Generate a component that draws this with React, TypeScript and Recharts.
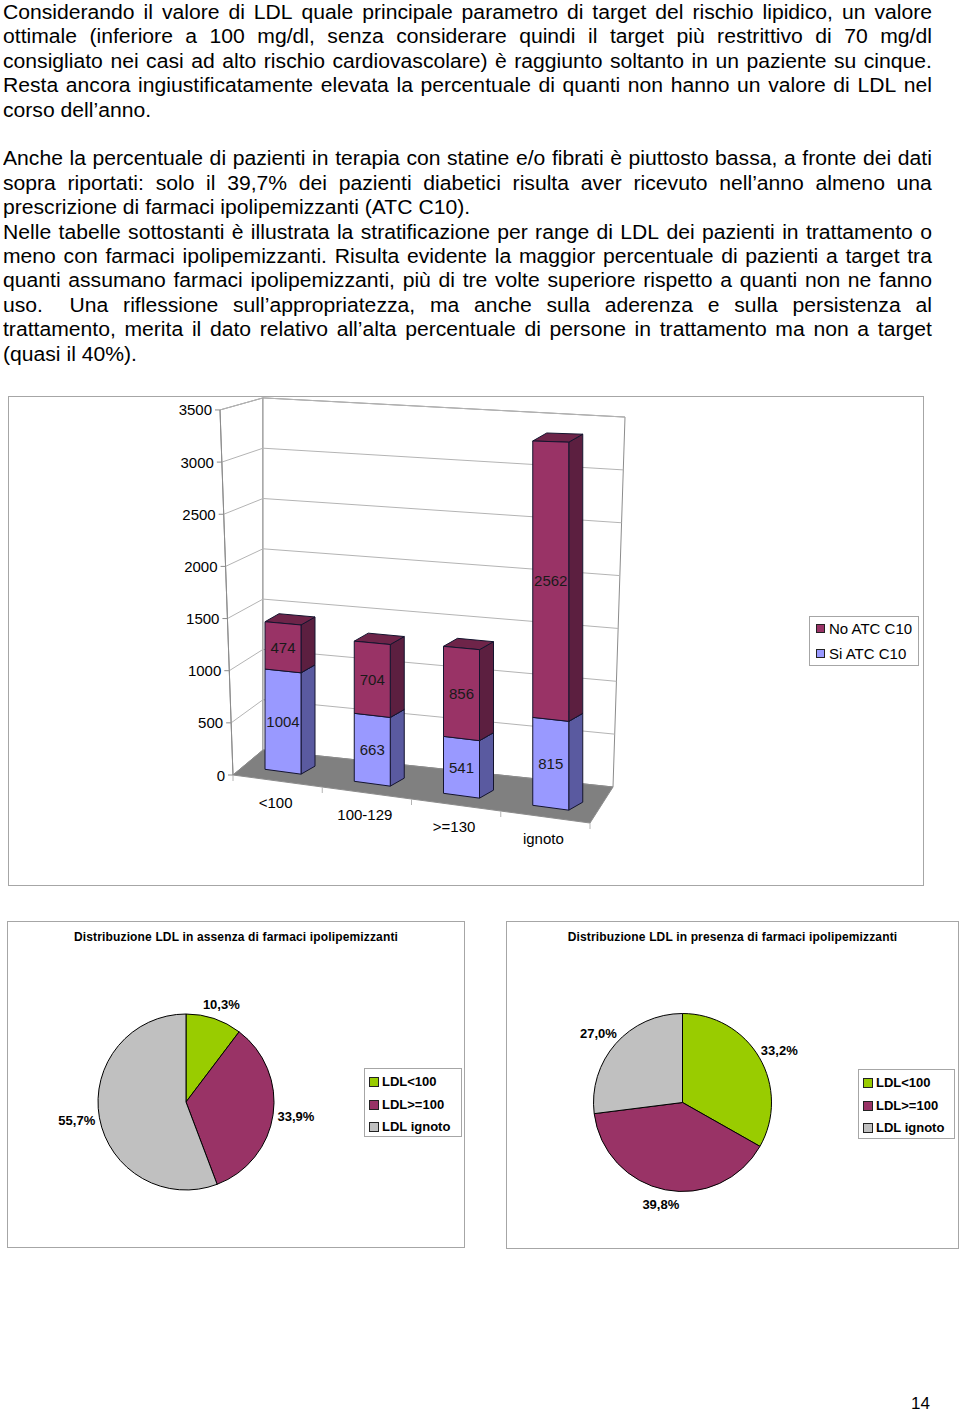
import React from 'react';
import { BarChart, Bar, XAxis, YAxis, Customized, PieChart, Pie, Cell } from 'recharts';

// ---------- text ----------
const textLines: { t: string; row: number; j: boolean }[] = [
  { t: 'Considerando il valore di LDL quale principale parametro di target del rischio lipidico, un valore', row: 0, j: true },
  { t: 'ottimale (inferiore a 100 mg/dl, senza considerare quindi il target più restrittivo di 70 mg/dl', row: 1, j: true },
  { t: 'consigliato nei casi ad alto rischio cardiovascolare) è raggiunto soltanto in un paziente su cinque.', row: 2, j: true },
  { t: 'Resta ancora ingiustificatamente elevata la percentuale di quanti non hanno un valore di LDL nel', row: 3, j: true },
  { t: 'corso dell’anno.', row: 4, j: false },
  { t: 'Anche la percentuale di pazienti in terapia con statine e/o fibrati è piuttosto bassa, a fronte dei dati', row: 6, j: true },
  { t: 'sopra riportati: solo il 39,7% dei pazienti diabetici risulta aver ricevuto nell’anno almeno una', row: 7, j: true },
  { t: 'prescrizione di farmaci ipolipemizzanti (ATC C10).', row: 8, j: false },
  { t: 'Nelle tabelle sottostanti è illustrata la stratificazione per range di LDL dei pazienti in trattamento o', row: 9, j: true },
  { t: 'meno con farmaci ipolipemizzanti. Risulta evidente la maggior percentuale di pazienti a target tra', row: 10, j: true },
  { t: 'quanti assumano farmaci ipolipemizzanti, più di tre volte superiore rispetto a quanti non ne fanno', row: 11, j: true },
  { t: 'uso.\u00a0\u00a0 Una riflessione sull’appropriatezza, ma anche sulla aderenza e sulla persistenza al', row: 12, j: true },
  { t: 'trattamento, merita il dato relativo all’alta percentuale di persone in trattamento ma non a target', row: 13, j: true },
  { t: '(quasi il 40%).', row: 14, j: false },
];

// ---------- bar chart data ----------
const ranges = ['<100', '100-129', '>=130', 'ignoto'];
const siATC = [1004, 663, 541, 815];
const noATC = [474, 704, 856, 2562];
const yTicks = [0, 500, 1000, 1500, 2000, 2500, 3000, 3500];
const seriesNames = { si: 'Si ATC C10', no: 'No ATC C10' };

// ---------- pie data ----------
const pieCategories = ['LDL<100', 'LDL>=100', 'LDL ignoto'];
const pieAssenza = [10.3, 33.9, 55.7];
const piePresenza = [33.2, 39.8, 27.0];
const pieColors = ['#99CC00', '#993366', '#C0C0C0'];

const barData = ranges.map((r, i) => ({ range: r, si: siATC[i], no: noATC[i] }));

const FONT = '"Liberation Sans", Arial, sans-serif';

// ---------- 3D projection (page coordinates) ----------
const OX = 8;
const OY = 396;
const CW = 916;
const CH = 490;
const PLOT_L = 233;
const PLOT_R = 590;
const PLOT_T = 410;
const PLOT_B = 775;
const YMAX = 3500;
const FLAT_K = (PLOT_B - PLOT_T) / YMAX;

const frontEdge = (v: number) => ({ x: 233 - (13 * v) / YMAX, y: 775 - v * 0.1043 });
const backLeft = (v: number) => ({ x: 263, y: 750 - v * 0.1006 });
const backRight = (v: number) => ({ x: 613 + (12 * v) / YMAX, y: 787 - v * 0.1057 });
const floorFront = (x: number) => 775 + 0.1345 * (x - 233);
const barY = (x: number, v: number) => 765 + 0.1345 * (x - 233) - v * (0.1 + 0.00003 * (x - 270));
const DEPTH_X = 14;
const DEPTH_Y = -8;
const BAR_SHIFT = 5;

const pts = (a: { x: number; y: number }[]) => a.map((p) => `${p.x},${p.y}`).join(' ');

const makeShape = (key: 'si' | 'no', front: string, side: string, top: string) => (props: any) => {
  const { x, y, width, height, payload } = props;
  if (width == null || height == null) return null;
  const py = y + OY;
  const vTop = (PLOT_B - py) / FLAT_K;
  const vBot = (PLOT_B - (py + height)) / FLAT_K;
  const xl = x + OX + BAR_SHIFT;
  const xr = xl + width;
  const fb = [
    { x: xl, y: barY(xl, vBot) },
    { x: xr, y: barY(xr, vBot) },
    { x: xr, y: barY(xr, vTop) },
    { x: xl, y: barY(xl, vTop) },
  ];
  const sd = [
    fb[1],
    { x: xr + DEPTH_X, y: fb[1].y + DEPTH_Y },
    { x: xr + DEPTH_X, y: fb[2].y + DEPTH_Y },
    fb[2],
  ];
  const tp = [
    fb[3],
    fb[2],
    { x: xr + DEPTH_X, y: fb[2].y + DEPTH_Y },
    { x: xl + DEPTH_X, y: fb[3].y + DEPTH_Y },
  ];
  const cx = (xl + xr) / 2;
  const cy = (barY(cx, vBot) + barY(cx, vTop)) / 2;
  const label = payload && payload[key] != null ? payload[key] : Math.round(vTop - vBot);
  return (
    <g transform={`translate(${-OX},${-OY})`}>
      <polygon points={pts(sd)} fill={side} stroke="#14142e" strokeWidth={1} strokeLinejoin="round" />
      <polygon points={pts(tp)} fill={top} stroke="#14142e" strokeWidth={1} strokeLinejoin="round" />
      <polygon points={pts(fb)} fill={front} stroke="#14142e" strokeWidth={1} strokeLinejoin="round" />
      <text x={cx} y={cy} textAnchor="middle" dominantBaseline="central" fontSize={15} fontFamily={FONT} fill="#1a1a1a">
        {label}
      </text>
    </g>
  );
};

const siShape = makeShape('si', '#9999FF', '#5A5AA0', '#7B7BD0');
const noShape = makeShape('no', '#993366', '#5C1F40', '#6E2449');

const Walls = () => {
  const gridV = yTicks.filter((v) => v > 0);
  const bounds = [0, 1, 2, 3, 4].map((k) => PLOT_L + ((PLOT_R - PLOT_L) * k) / ranges.length);
  return (
    <g transform={`translate(${-OX},${-OY})`}>
      <polygon
        points={pts([frontEdge(0), frontEdge(YMAX), backLeft(YMAX), backLeft(0)])}
        fill="#FFFFFF"
        stroke="#8C8C8C"
        strokeWidth={1}
      />
      <polygon
        points={pts([backLeft(0), backLeft(YMAX), backRight(YMAX), backRight(0)])}
        fill="#FFFFFF"
        stroke="#8C8C8C"
        strokeWidth={1}
      />
      {gridV.map((v) => (
        <g key={v}>
          <line x1={frontEdge(v).x} y1={frontEdge(v).y} x2={backLeft(v).x} y2={backLeft(v).y} stroke="#B4B4B4" strokeWidth={1} />
          <line x1={backLeft(v).x} y1={backLeft(v).y} x2={backRight(v).x} y2={backRight(v).y} stroke="#B4B4B4" strokeWidth={1} />
        </g>
      ))}
      <polygon
        points={pts([{ x: PLOT_L, y: floorFront(PLOT_L) }, { x: PLOT_R, y: floorFront(PLOT_R) }, backRight(0), backLeft(0)])}
        fill="#808080"
        stroke="#8C8C8C"
        strokeWidth={1}
      />
      <line x1={frontEdge(0).x} y1={frontEdge(0).y} x2={frontEdge(YMAX).x} y2={frontEdge(YMAX).y} stroke="#8C8C8C" strokeWidth={1} />
      {bounds.map((bx, i) => (
        <line key={i} x1={bx} y1={floorFront(bx)} x2={bx} y2={floorFront(bx) + 6} stroke="#B4B4B4" strokeWidth={1} />
      ))}
    </g>
  );
};

const YTick = (props: any) => {
  const v = props.payload.value;
  const p = frontEdge(v);
  return (
    <g transform={`translate(${-OX},${-OY})`}>
      <line x1={p.x - 5} y1={p.y} x2={p.x} y2={p.y} stroke="#8C8C8C" strokeWidth={1} />
      <text x={p.x - 8} y={p.y} textAnchor="end" dominantBaseline="central" fontSize={15} fontFamily={FONT} fill="#000">
        {v}
      </text>
    </g>
  );
};

const XTick = (props: any) => {
  const xc = props.x + OX;
  return (
    <g transform={`translate(${-OX},${-OY})`}>
      <text x={xc - 2} y={floorFront(xc) + 21} textAnchor="middle" dominantBaseline="central" fontSize={15} fontFamily={FONT} fill="#000">
        {props.payload.value}
      </text>
    </g>
  );
};

const BarSection = () => (
  <>
    <div
      style={{
        position: 'absolute',
        left: OX,
        top: OY,
        width: CW,
        height: CH,
        boxSizing: 'border-box',
        border: '1px solid #A6A6A6',
        background: '#fff',
      }}
    />
    <div style={{ position: 'absolute', left: OX, top: OY, width: CW, height: CH }}>
      <BarChart
        width={CW}
        height={CH}
        data={barData}
        margin={{ top: PLOT_T - OY, right: OX + CW - PLOT_R, bottom: OY + CH - PLOT_B - 30, left: PLOT_L - OX - 60 }}
        barSize={36}
      >
        <Customized component={Walls} />
        <XAxis dataKey="range" axisLine={false} tickLine={false} tick={XTick} height={30} interval={0} />
        <YAxis domain={[0, YMAX]} ticks={yTicks} axisLine={false} tickLine={false} tick={YTick} width={60} />
        <Bar dataKey="si" stackId="a" name={seriesNames.si} fill="#9999FF" shape={siShape} isAnimationActive={false} />
        <Bar dataKey="no" stackId="a" name={seriesNames.no} fill="#993366" shape={noShape} isAnimationActive={false} />
      </BarChart>
    </div>
    <div
      style={{
        position: 'absolute',
        left: 809,
        top: 616,
        width: 110,
        height: 50,
        boxSizing: 'border-box',
        border: '1px solid #A6A6A6',
        background: '#fff',
        fontFamily: FONT,
        fontSize: 15,
      }}
    >
      {[
        { n: seriesNames.no, c: '#993366', y: 12 },
        { n: seriesNames.si, c: '#9999FF', y: 37 },
      ].map((it) => (
        <div key={it.n} style={{ position: 'absolute', left: 0, top: it.y - 10, height: 20, width: 110 }}>
          <div
            style={{
              position: 'absolute',
              left: 6,
              top: 5,
              width: 9,
              height: 9,
              boxSizing: 'border-box',
              background: it.c,
              border: '1px solid #222',
            }}
          />
          <div style={{ position: 'absolute', left: 19, top: 0, lineHeight: '20px', whiteSpace: 'nowrap' }}>{it.n}</div>
        </div>
      ))}
    </div>
  </>
);

const pieLabel = (props: any) => {
  const { cx, cy, midAngle, outerRadius, value } = props;
  const RAD = Math.PI / 180;
  const c = Math.cos(-midAngle * RAD);
  const s = Math.sin(-midAngle * RAD);
  const r = outerRadius + 8;
  const x = cx + r * c + c * 15;
  const y = cy + r * s + s * 7;
  return (
    <text x={x} y={y} textAnchor="middle" dominantBaseline="central" fontSize={13} fontWeight="bold" fontFamily={FONT} fill="#000">
      {Number(value).toFixed(1).replace('.', ',')}%
    </text>
  );
};

type PieProps = {
  title: string;
  values: number[];
  left: number;
  top: number;
  w: number;
  h: number;
  cx: number;
  cy: number;
  r: number;
  lg: { x: number; y: number; w: number; h: number };
};

const PiePanel = ({ title, values, left, top, w, h, cx, cy, r, lg }: PieProps) => {
  const data = pieCategories.map((n, i) => ({ name: n, value: values[i] }));
  return (
    <div
      style={{
        position: 'absolute',
        left,
        top,
        width: w,
        height: h,
        boxSizing: 'border-box',
        border: '1px solid #A6A6A6',
        background: '#fff',
      }}
    >
      <div
        style={{
          position: 'absolute',
          left: 0,
          top: 7,
          width: w - 2,
          textAlign: 'center',
          fontFamily: FONT,
          fontWeight: 'bold',
          fontSize: 12,
          letterSpacing: 0.15,
          lineHeight: '16px',
          whiteSpace: 'nowrap',
        }}
      >
        {title}
      </div>
      <div style={{ position: 'absolute', left: -1, top: -1 }}>
        <PieChart width={w} height={h} margin={{ top: 0, right: 0, bottom: 0, left: 0 }}>
          <Pie
            data={data}
            dataKey="value"
            nameKey="name"
            cx={cx}
            cy={cy}
            outerRadius={r}
            startAngle={90}
            endAngle={-270}
            stroke="#000"
            strokeWidth={1}
            label={pieLabel}
            labelLine={false}
            isAnimationActive={false}
          >
            {data.map((d, i) => (
              <Cell key={d.name} fill={pieColors[i]} />
            ))}
          </Pie>
        </PieChart>
      </div>
      <div
        style={{
          position: 'absolute',
          left: lg.x,
          top: lg.y,
          width: lg.w,
          height: lg.h,
          boxSizing: 'border-box',
          border: '1px solid #A6A6A6',
          background: '#fff',
          fontFamily: FONT,
          fontWeight: 'bold',
          fontSize: 13,
        }}
      >
        {pieCategories.map((n, i) => (
          <div key={n} style={{ position: 'absolute', left: 0, top: 3 + i * 22.5, height: 20, width: lg.w }}>
            <div
              style={{
                position: 'absolute',
                left: 4,
                top: 5,
                width: 10,
                height: 10,
                boxSizing: 'border-box',
                background: pieColors[i],
                border: '1px solid #222',
              }}
            />
            <div style={{ position: 'absolute', left: 17, top: 0, lineHeight: '20px', whiteSpace: 'nowrap' }}>{n}</div>
          </div>
        ))}
      </div>
    </div>
  );
};

const TEXT_SCALE = 1.09;
const TEXT_W = 929;

const TextLine = ({ t, row, j }: { t: string; row: number; j: boolean }) => {
  const words = t.split(' ');
  return (
    <div
      style={{
        position: 'absolute',
        left: 3,
        top: row * 24.4,
        width: TEXT_W / TEXT_SCALE,
        fontFamily: FONT,
        fontSize: 19.4,
        lineHeight: '24.4px',
        color: '#000',
        whiteSpace: 'pre',
        transform: `scaleX(${TEXT_SCALE})`,
        transformOrigin: '0 0',
        display: j ? 'flex' : 'block',
        justifyContent: 'space-between',
      }}
    >
      {j ? words.map((w, i) => <span key={i} style={{ flexShrink: 0 }}>{w}</span>) : t}
    </div>
  );
};

export default function App() {
  return (
    <div style={{ position: 'absolute', left: 0, top: 0, width: 960, height: 1412, background: '#fff', overflow: 'hidden' }}>
      {textLines.map((l) => (
        <TextLine key={l.row} t={l.t} row={l.row} j={l.j} />
      ))}
      <BarSection />
      <PiePanel
        title="Distribuzione LDL in assenza di farmaci ipolipemizzanti"
        values={pieAssenza}
        left={7}
        top={921}
        w={458}
        h={327}
        cx={179}
        cy={181}
        r={88}
        lg={{ x: 356, y: 146, w: 98, h: 69 }}
      />
      <PiePanel
        title="Distribuzione LDL in presenza di farmaci ipolipemizzanti"
        values={piePresenza}
        left={506}
        top={921}
        w={453}
        h={328}
        cx={176.5}
        cy={181.5}
        r={89}
        lg={{ x: 351, y: 147, w: 97, h: 70 }}
      />
      <div style={{ position: 'absolute', left: 911, top: 1393, fontFamily: FONT, fontSize: 17, lineHeight: '22px' }}>14</div>
    </div>
  );
}
